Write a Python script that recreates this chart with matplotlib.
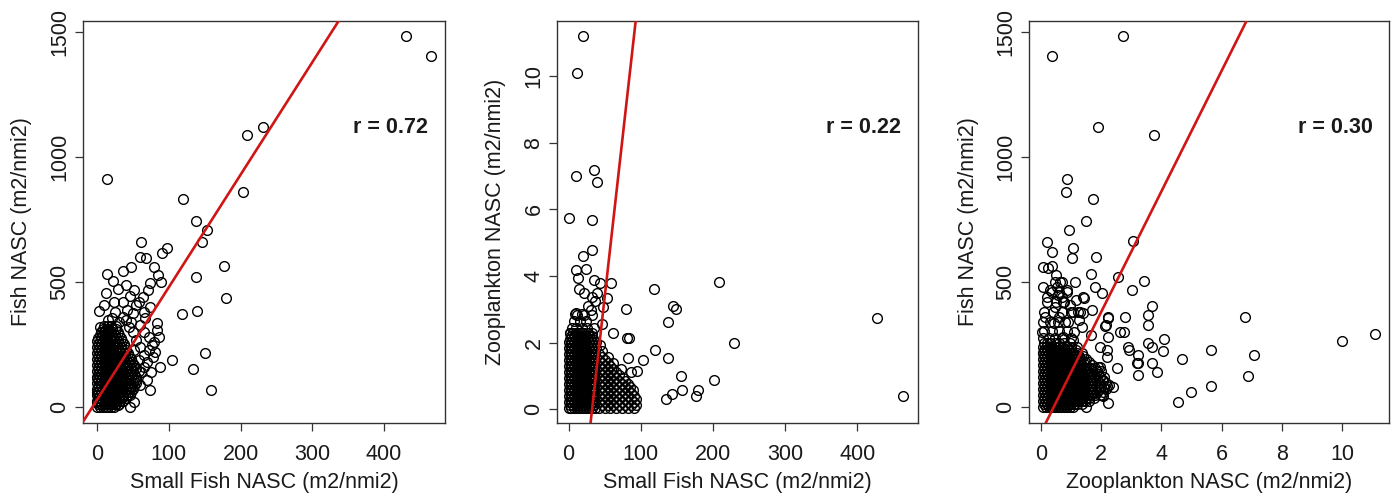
import matplotlib

matplotlib.use("Agg")
import matplotlib.pyplot as plt

plt.rcParams["font.family"] = ["Liberation Sans", "DejaVu Sans"]

TEXT = "#1a1a1a"
LINE_RED = "#d01515"

# --- Small fish NASC (x) vs fish NASC (y) -------------------------------
# dense core, stored as (fish NASC, [small fish NASC ...]) rows
sf_fish_core = [
    (0, [0, 4, 8, 12, 16, 20, 24]),
    (12, [2, 6, 10, 14, 18, 22, 26, 30]),
    (24, [0, 4, 8, 12, 16, 20, 24, 28, 32, 36]),
    (36, [2, 6, 10, 14, 18, 22, 26, 30, 34, 40]),
    (48, [0, 4, 8, 12, 16, 20, 24, 28, 32, 36, 42, 46]),
    (60, [2, 6, 10, 14, 18, 22, 26, 30, 34, 38, 44, 48]),
    (72, [0, 4, 8, 12, 16, 20, 24, 28, 32, 36, 40, 46, 50]),
    (84, [2, 6, 10, 14, 18, 22, 26, 30, 34, 38, 42, 48, 52]),
    (96, [0, 4, 8, 12, 16, 20, 24, 28, 32, 36, 40, 44, 50, 55]),
    (108, [2, 6, 10, 14, 18, 22, 26, 30, 34, 38, 42, 46, 52]),
    (120, [0, 4, 8, 12, 16, 20, 24, 28, 32, 36, 40, 44, 48, 55]),
    (132, [2, 6, 10, 14, 18, 22, 26, 30, 34, 38, 42, 46, 52]),
    (144, [0, 4, 8, 12, 16, 20, 24, 28, 32, 36, 40, 44, 50, 58]),
    (156, [2, 6, 10, 14, 18, 22, 26, 30, 34, 38, 42, 47, 54]),
    (168, [0, 4, 8, 12, 16, 20, 24, 28, 32, 36, 40, 45, 52]),
    (180, [2, 6, 10, 14, 18, 22, 26, 30, 34, 38, 43, 49]),
    (192, [0, 4, 8, 12, 16, 20, 24, 28, 32, 36, 41, 47]),
    (204, [2, 6, 10, 14, 18, 22, 26, 30, 34, 39, 45]),
    (216, [0, 4, 8, 12, 16, 20, 24, 28, 32, 37, 43]),
    (228, [2, 6, 10, 14, 18, 22, 26, 30, 35, 41]),
    (240, [0, 4, 8, 12, 16, 20, 24, 28, 33, 39]),
    (252, [2, 6, 10, 14, 18, 22, 26, 31, 37]),
    (264, [0, 4, 8, 12, 16, 20, 24, 29, 35]),
    (276, [2, 6, 10, 14, 18, 22, 27, 33]),
    (288, [4, 8, 12, 16, 20, 25, 31]),
    (300, [6, 10, 14, 18, 23, 29]),
    (312, [8, 12, 16, 21, 27]),
    (324, [10, 15, 20, 26]),
]
sf_fish_pts = [
    (430, 1485), (466, 1405), (232, 1121), (209, 1088), (204, 861), (13.5, 912),
    (120, 832), (138, 744), (153, 708), (146, 661), (62, 659), (97, 635),
    (90, 615), (60, 601), (68, 595), (36.7, 545), (48, 559), (79.4, 561),
    (14.4, 532), (22.7, 505), (28.8, 471), (12.5, 457), (85.4, 528), (89, 501),
    (74, 495), (71.5, 468), (64.5, 441), (46, 445), (36.7, 421), (55, 408),
    (74, 401), (3.3, 385), (25, 381), (4, 321), (20.5, 355), (36.7, 361),
    (50.6, 375), (67, 355), (83, 335), (83, 308), (87, 281), (80, 261),
    (81, 221), (88, 161), (74, 68), (69, 108), (105, 188), (118, 372),
    (140, 384), (177, 565), (180, 437), (138, 521), (150, 216), (134, 152),
    (159, 68), (0, 115), (36.7, 41), (28.8, 8), (50, 300), (55, 270),
    (60, 240), (65, 210), (70, 180), (58, 190), (52, 230), (62, 140),
    (55, 110), (48, 80), (44, 320), (48, 340), (60, 330), (66, 300),
    (72, 280), (76, 250), (72, 230), (78, 200), (66, 160), (75, 140),
    (60, 90), (52, 20), (46, 0), (40, 350), (30, 340), (16, 350),
    (10, 410), (24, 420), (42, 390), (58, 420), (65, 380), (52, 470),
    (40, 490), (6, 300), (0, 60), (0, 20),
]

# --- Small fish NASC (x) vs zooplankton NASC (y) ------------------------
sf_zoo_core = [
    (0.05, [0, 4, 8, 12, 16, 20, 24, 28, 32, 36, 42, 50, 58, 66, 74, 82, 90]),
    (0.14, [2, 6, 10, 14, 18, 22, 26, 30, 34, 46, 54, 62, 70, 78, 86, 94]),
    (0.23, [0, 4, 8, 12, 16, 20, 24, 28, 32, 36, 42, 50, 58, 66, 74, 82, 90]),
    (0.32, [2, 6, 10, 14, 18, 22, 26, 30, 34, 46, 54, 62, 70, 78, 86, 93]),
    (0.41, [0, 4, 8, 12, 16, 20, 24, 28, 32, 36, 42, 50, 58, 66, 74, 82, 90]),
    (0.50, [2, 6, 10, 14, 18, 22, 26, 30, 34, 46, 54, 62, 70, 78, 86]),
    (0.59, [0, 4, 8, 12, 16, 20, 24, 28, 32, 36, 42, 50, 58, 66, 74, 82, 89]),
    (0.68, [2, 6, 10, 14, 18, 22, 26, 30, 34, 46, 54, 62, 70, 78, 85]),
    (0.77, [0, 4, 8, 12, 16, 20, 24, 28, 32, 36, 42, 50, 58, 66, 74, 82]),
    (0.86, [2, 6, 10, 14, 18, 22, 26, 30, 34, 46, 54, 62, 70, 78]),
    (0.95, [0, 4, 8, 12, 16, 20, 24, 28, 32, 36, 42, 50, 58, 66, 75]),
    (1.04, [2, 6, 10, 14, 18, 22, 26, 30, 34, 46, 54, 62, 70]),
    (1.13, [0, 4, 8, 12, 16, 20, 24, 28, 32, 36, 42, 50, 58, 66]),
    (1.22, [2, 6, 10, 14, 18, 22, 26, 30, 34, 46, 54, 62, 72]),
    (1.31, [0, 4, 8, 12, 16, 20, 24, 28, 32, 36, 42, 50, 58]),
    (1.40, [2, 6, 10, 14, 18, 22, 26, 30, 34, 46, 54, 62]),
    (1.49, [0, 4, 8, 12, 16, 20, 24, 28, 32, 36, 42, 50]),
    (1.58, [2, 6, 10, 14, 18, 22, 26, 30, 34, 46, 55]),
    (1.67, [0, 4, 8, 12, 16, 20, 24, 28, 32, 36, 42]),
    (1.76, [2, 6, 10, 14, 18, 22, 26, 30, 34, 47]),
    (1.85, [0, 4, 8, 12, 16, 20, 24, 28, 32, 38]),
    (1.94, [2, 6, 10, 14, 18, 22, 26, 30, 34, 44]),
    (2.03, [0, 4, 8, 12, 16, 20, 24, 28, 32, 38]),
    (2.12, [2, 6, 10, 14, 18, 22, 26, 30, 34]),
    (2.21, [4, 8, 12, 16, 20, 24, 28, 33]),
    (2.30, [2, 6, 10, 14, 18, 22, 27, 32]),
    (2.45, [5, 11, 18, 26, 35]),
    (2.65, [8, 16, 24]),
    (2.82, [12, 22, 32]),
]
sf_zoo_pts = [
    (20.2, 11.21), (12, 10.1), (9.7, 7.0), (35.5, 7.18), (39.6, 6.83),
    (0.4, 5.73), (32.8, 5.68), (31.8, 4.78), (19.4, 4.61), (9.7, 4.18),
    (24, 4.21), (13.3, 3.93), (35, 3.88), (43.4, 3.78), (58.2, 3.78),
    (21.2, 3.48), (31.8, 3.38), (36.5, 3.26), (52.7, 3.33), (48, 3.08),
    (30.5, 2.98), (19, 2.86), (8.7, 2.86), (79.4, 3.0), (118.2, 3.6),
    (144, 3.1), (148.7, 3.0), (138, 2.61), (208.7, 3.81), (229.5, 2.0),
    (45.7, 2.56), (61.8, 2.28), (80.4, 2.15), (83.6, 2.15), (119.6, 1.78),
    (103.4, 1.48), (95, 1.16), (138, 1.53), (155.6, 1.01), (156.6, 0.58),
    (142.7, 0.45), (134.9, 0.30), (178.8, 0.58), (177, 0.40), (201.8, 0.88),
    (427.7, 2.75), (463.8, 0.40), (82.6, 1.53), (86.3, 1.13), (1.8, 2.28),
    (10, 2.88), (27, 3.1), (15, 3.6), (40, 3.5),
]

# --- Zooplankton NASC (x) vs fish NASC (y) ------------------------------
zoo_fish_core = [
    (0, [0.05, 0.15, 0.25, 0.35, 0.45, 0.55, 0.65, 0.75, 0.85, 0.95, 1.05]),
    (12, [0.1, 0.2, 0.3, 0.4, 0.5, 0.6, 0.7, 0.8, 0.9, 1.0, 1.1, 1.2, 1.35]),
    (24, [0.05, 0.15, 0.25, 0.35, 0.45, 0.55, 0.65, 0.75, 0.85, 0.95, 1.05,
          1.15, 1.25, 1.35, 1.45, 1.6]),
    (36, [0.1, 0.2, 0.3, 0.4, 0.5, 0.6, 0.7, 0.8, 0.9, 1.0, 1.1, 1.2, 1.3,
          1.4, 1.5, 1.6, 1.75]),
    (48, [0.05, 0.15, 0.25, 0.35, 0.45, 0.55, 0.65, 0.75, 0.85, 0.95, 1.05,
          1.15, 1.25, 1.35, 1.45, 1.55, 1.65, 1.8, 1.95]),
    (60, [0.1, 0.2, 0.3, 0.4, 0.5, 0.6, 0.7, 0.8, 0.9, 1.0, 1.1, 1.2, 1.3,
          1.4, 1.5, 1.6, 1.7, 1.85, 2.05]),
    (72, [0.05, 0.15, 0.25, 0.35, 0.45, 0.55, 0.65, 0.75, 0.85, 0.95, 1.05,
          1.15, 1.25, 1.35, 1.45, 1.55, 1.65, 1.8, 1.95, 2.15]),
    (84, [0.1, 0.2, 0.3, 0.4, 0.5, 0.6, 0.7, 0.8, 0.9, 1.0, 1.1, 1.2, 1.3,
          1.4, 1.5, 1.6, 1.7, 1.85, 2.0, 2.2]),
    (96, [0.05, 0.15, 0.25, 0.35, 0.45, 0.55, 0.65, 0.75, 0.85, 0.95, 1.05,
          1.15, 1.25, 1.35, 1.45, 1.55, 1.65, 1.8, 1.95, 2.15]),
    (108, [0.1, 0.2, 0.3, 0.4, 0.5, 0.6, 0.7, 0.8, 0.9, 1.0, 1.1, 1.2, 1.3,
           1.4, 1.5, 1.6, 1.7, 1.85, 2.05]),
    (120, [0.05, 0.15, 0.25, 0.35, 0.45, 0.55, 0.65, 0.75, 0.85, 0.95, 1.05,
           1.15, 1.25, 1.35, 1.45, 1.55, 1.65, 1.8, 1.95, 2.1]),
    (132, [0.1, 0.2, 0.3, 0.4, 0.5, 0.6, 0.7, 0.8, 0.9, 1.0, 1.1, 1.2, 1.3,
           1.4, 1.5, 1.6, 1.75, 1.9]),
    (144, [0.05, 0.15, 0.25, 0.35, 0.45, 0.55, 0.65, 0.75, 0.85, 0.95, 1.05,
           1.15, 1.25, 1.35, 1.45, 1.55, 1.7, 1.85, 2.0]),
    (156, [0.1, 0.2, 0.3, 0.4, 0.5, 0.6, 0.7, 0.8, 0.9, 1.0, 1.1, 1.2, 1.3,
           1.4, 1.5, 1.65, 1.8]),
    (168, [0.05, 0.15, 0.25, 0.35, 0.45, 0.55, 0.65, 0.75, 0.85, 0.95, 1.05,
           1.15, 1.25, 1.35, 1.5, 1.7]),
    (180, [0.1, 0.2, 0.3, 0.4, 0.5, 0.6, 0.7, 0.8, 0.9, 1.0, 1.1, 1.2, 1.3,
           1.45, 1.6]),
    (192, [0.05, 0.15, 0.25, 0.35, 0.45, 0.55, 0.65, 0.75, 0.85, 0.95, 1.05,
           1.15, 1.3, 1.5]),
    (204, [0.1, 0.2, 0.3, 0.4, 0.5, 0.6, 0.7, 0.8, 0.9, 1.0, 1.1, 1.25, 1.4]),
    (216, [0.05, 0.15, 0.25, 0.35, 0.45, 0.55, 0.65, 0.75, 0.85, 0.95, 1.05,
           1.2, 1.35]),
    (228, [0.1, 0.2, 0.3, 0.4, 0.5, 0.6, 0.7, 0.8, 0.9, 1.0, 1.15]),
    (240, [0.05, 0.15, 0.25, 0.35, 0.45, 0.55, 0.7, 0.85, 1.0, 1.2]),
    (255, [0.1, 0.2, 0.3, 0.45, 0.6, 0.75, 0.95]),
    (275, [0.05, 0.25, 0.45, 0.7, 1.0]),
    (305, [0.1, 0.35, 0.6, 0.85]),
    (340, [0.05, 0.3, 0.55, 0.8]),
    (380, [0.1, 0.4, 0.7, 1.0, 1.3]),
    (420, [0.2, 0.5, 0.75]),
    (460, [0.35, 0.6, 0.85]),
    (500, [0.45, 0.7]),
]
zoo_fish_pts = [
    (2.73, 1486), (0.375, 1406), (1.90, 1122), (3.75, 1089), (0.85, 913),
    (0.83, 862), (1.74, 833), (1.49, 745), (0.93, 709), (3.04, 666),
    (0.19, 660), (1.07, 636), (0.375, 620), (1.83, 602), (1.02, 596),
    (0.05, 562), (0.24, 556), (0.375, 565), (0.5, 529), (1.66, 533),
    (2.57, 522), (3.42, 505), (3.01, 469), (2.01, 458), (1.79, 482),
    (1.40, 442), (1.44, 438), (0.63, 502), (0.52, 482), (0.69, 442),
    (0.74, 422), (1.13, 502), (1.07, 382), (1.24, 382), (1.40, 375),
    (1.68, 389), (2.23, 362), (2.79, 362), (3.7, 405), (3.56, 369),
    (3.56, 329), (2.62, 302), (2.75, 302), (2.12, 325), (2.9, 242),
    (2.92, 229), (3.23, 209), (3.56, 256), (3.67, 242), (4.09, 272),
    (4.06, 226), (3.7, 176), (3.84, 142), (3.23, 176), (3.23, 129),
    (4.69, 192), (5.63, 229), (5.63, 86), (4.97, 62), (4.56, 22),
    (6.77, 362), (10.0, 266), (11.09, 292), (7.08, 209), (6.88, 125),
    (2.51, 156), (2.38, 80), (2.23, 16), (2.06, 43), (1.49, 2),
    (2.05, 105), (2.08, 75), (1.96, 162), (2.18, 202), (1.96, 242),
    (1.65, 289), (1.35, 322), (1.07, 269), (0.74, 282), (0.43, 336),
    (0.13, 362), (0.02, 302), (0.08, 216), (2.26, 89), (2.01, 49),
    (1.9, 162), (2.2, 229), (2.23, 282), (2.15, 329), (2.23, 356), (3.2, 176),
    (0.2, 440), (0.45, 400), (0.6, 360), (0.9, 340), (1.1, 300), (0.95, 410),
    (1.25, 350), (0.3, 470), (0.05, 480), (0.55, 450), (0.85, 470), (1.15, 430),
]

# fitted lines (intercept, slope) and correlation coefficients
fit_lines = [(28.7, 4.50), (-6.29, 0.193), (-101.7, 241.4)]
r_values = [0.72, 0.22, 0.30]

x_labels = ["Small Fish NASC (m2/nmi2)", "Small Fish NASC (m2/nmi2)",
            "Zooplankton NASC (m2/nmi2)"]
y_labels = ["Fish NASC (m2/nmi2)", "Zooplankton NASC (m2/nmi2)",
            "Fish NASC (m2/nmi2)"]
x_ticks = [[0, 100, 200, 300, 400], [0, 100, 200, 300, 400], [0, 2, 4, 6, 8, 10]]
y_ticks = [[0, 500, 1000, 1500], [0, 2, 4, 6, 8, 10], [0, 500, 1000, 1500]]
x_lims = [(-19.5, 485), (-16, 484), (-0.40, 11.56)]
y_lims = [(-64, 1544), (-0.41, 11.65), (-64, 1546)]


def collect(core, pts):
    xs, ys = [], []
    for yv, row in core:
        xs.extend(row)
        ys.extend([yv] * len(row))
    for xv, yv in pts:
        xs.append(xv)
        ys.append(yv)
    return xs, ys


panels = [collect(sf_fish_core, sf_fish_pts),
          collect(sf_zoo_core, sf_zoo_pts),
          collect(zoo_fish_core, zoo_fish_pts)]

W, H = 1397, 499
fig = plt.figure(figsize=(W / 100, H / 100), dpi=100)
boxes = [(83, 445), (557, 918), (1029, 1389)]
top, bottom = 21, 423

for i, (xs, ys) in enumerate(panels):
    x0, x1 = boxes[i]
    ax = fig.add_axes([x0 / W, 1 - bottom / H, (x1 - x0) / W, (bottom - top) / H])
    ax.plot(xs, ys, "o", ms=7.0, mfc="none", mec="black", mew=1.0, zorder=2)
    b0, b1 = fit_lines[i]
    ax.axline((0, b0), slope=b1, color=LINE_RED, lw=1.9, zorder=3)
    ax.text(0.85, 0.735, f"r = {r_values[i]:.2f}", transform=ax.transAxes,
            ha="center", va="center", fontsize=15.5, fontweight="bold", color=TEXT)

    ax.set_xlim(*x_lims[i])
    ax.set_ylim(*y_lims[i])
    ax.set_xticks(x_ticks[i])
    ax.set_yticks(y_ticks[i])
    ax.tick_params(direction="out", length=6, width=0.9, colors="#333333",
                   labelsize=15.5, labelcolor=TEXT)
    ax.tick_params(axis="x", pad=9)
    ax.tick_params(axis="y", pad=3)
    for lab in ax.get_yticklabels():
        lab.set(rotation=90, rotation_mode="anchor", ha="center", va="bottom")
    for s in ax.spines.values():
        s.set_linewidth(1.0)
        s.set_color("#333333")

    ax.set_xlabel(x_labels[i], fontsize=15.5, color=TEXT, va="center")
    ax.xaxis.set_label_coords(0.5, -0.149)
    ax.set_ylabel(y_labels[i], fontsize=15.5, color=TEXT, va="center")
    ax.yaxis.set_label_coords(-0.169, 0.5)

fig.savefig("out.png", dpi=100)
